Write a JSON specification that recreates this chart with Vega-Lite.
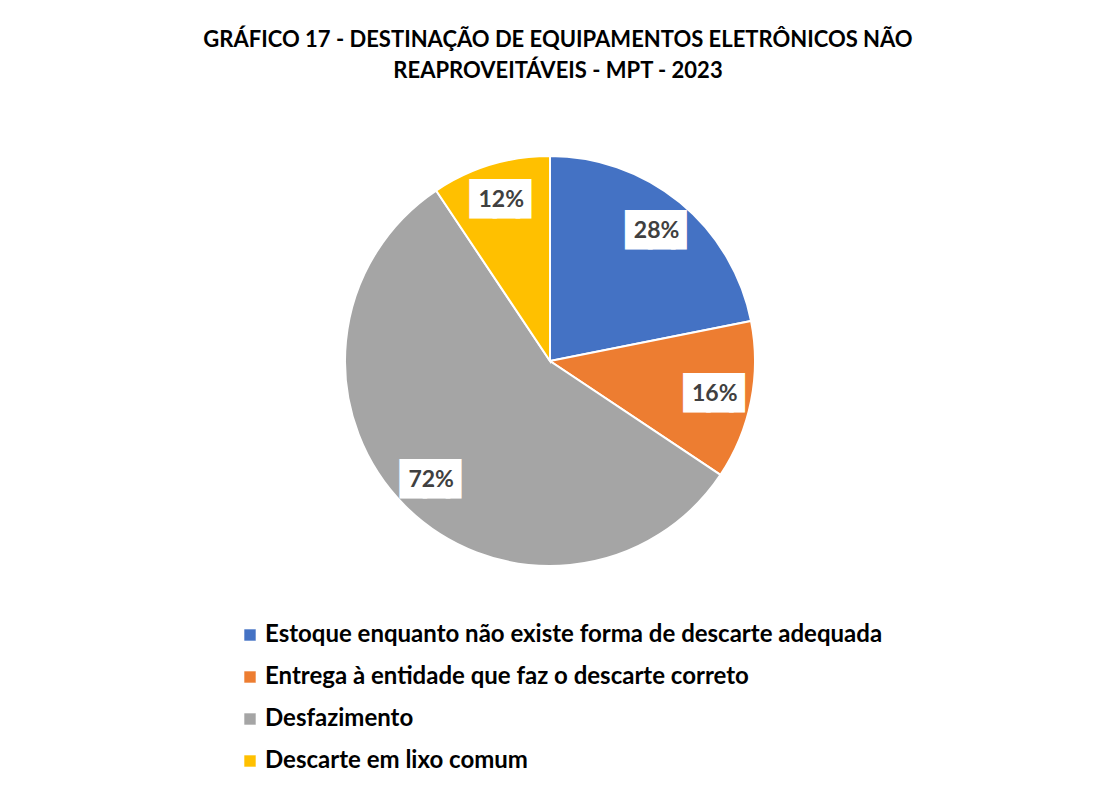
{
  "$schema": "https://vega.github.io/schema/vega-lite/v6.json",
  "width": 1100,
  "height": 522,
  "autosize": "none",
  "padding": {"left": 0, "top": 100, "right": 5, "bottom": 163},
  "background": "white",
  "title": {
    "text": ["GRÁFICO 17 - DESTINAÇÃO DE EQUIPAMENTOS ELETRÔNICOS NÃO", "REAPROVEITÁVEIS - MPT - 2023"],
    "font": "Lato",
    "fontSize": 22,
    "fontWeight": "bold",
    "color": "#000000",
    "anchor": "middle",
    "dx": 8,
    "offset": 17,
    "lineHeight": 31
  },
  "data": {
    "values": [
      {"categoria": "Estoque enquanto não existe forma de descarte adequada", "valor": 28, "rotulo": "28%", "ordem": 1},
      {"categoria": "Entrega à entidade que faz o descarte correto", "valor": 16, "rotulo": "16%", "ordem": 2},
      {"categoria": "Desfazimento", "valor": 72, "rotulo": "72%", "ordem": 3},
      {"categoria": "Descarte em lixo comum", "valor": 12, "rotulo": "12%", "ordem": 4}
    ]
  },
  "encoding": {
    "theta": {"field": "valor", "type": "quantitative", "stack": true},
    "order": {"field": "ordem", "type": "quantitative"}
  },
  "layer": [
    {
      "mark": {"type": "arc", "outerRadius": 205, "stroke": "white", "strokeWidth": 2},
      "encoding": {
        "color": {
          "field": "categoria",
          "type": "nominal",
          "sort": ["Estoque enquanto não existe forma de descarte adequada", "Entrega à entidade que faz o descarte correto", "Desfazimento", "Descarte em lixo comum"],
          "scale": {
            "domain": ["Estoque enquanto não existe forma de descarte adequada", "Entrega à entidade que faz o descarte correto", "Desfazimento", "Descarte em lixo comum"],
            "range": ["#4472C4", "#ED7D31", "#A5A5A5", "#FFC000"]
          },
          "legend": {
            "orient": "none",
            "legendX": 238,
            "legendY": 523,
            "title": null,
            "symbolType": "square",
            "symbolSize": 130,
            "symbolStrokeWidth": 0,
            "labelFontSize": 24,
            "labelFont": "Lato",
            "labelFontWeight": "bold",
            "labelColor": "#000000",
            "labelLimit": 0,
            "labelOffset": 3,
            "rowPadding": 18
          }
        }
      }
    },
    {
      "mark": {"type": "text", "radius": 168, "text": "██▌", "font": "DejaVu Sans", "fontSize": 30, "dx": 5, "color": "white", "stroke": "white", "strokeWidth": 4, "baseline": "middle"}
    },
    {
      "mark": {"type": "text", "radius": 168, "font": "Lato", "fontSize": 23, "fontWeight": "bold", "color": "#404040", "baseline": "middle"},
      "encoding": {"text": {"field": "rotulo"}}
    }
  ],
  "config": {"view": {"stroke": null}}
}
